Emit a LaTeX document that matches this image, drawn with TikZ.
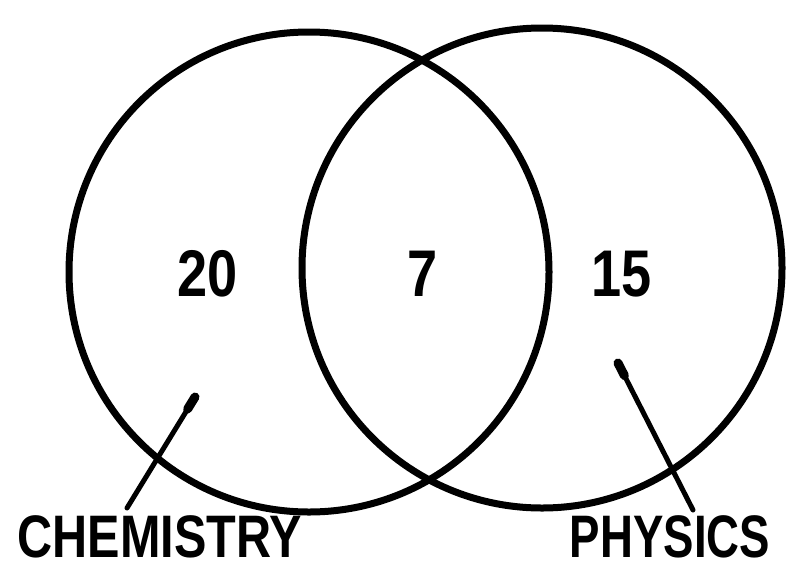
\documentclass[tikz,border=0pt]{standalone}
\usepackage{fontspec}
\setmainfont{Liberation Sans}
\usetikzlibrary{calc}
\begin{document}
\begin{tikzpicture}[x=1pt,y=-1pt,
  setcircle/.style={circle,draw=black,line width=7pt,inner sep=0pt,minimum size=480pt},
  numlabel/.style={font=\fontsize{66}{66}\selectfont\bfseries,inner sep=0pt,xscale=0.82},
  setname/.style={font=\fontsize{60}{60}\selectfont\bfseries,inner sep=0pt,anchor=base},
  leader/.style={line width=5pt,line cap=round},
  blob/.style={line width=9pt,line cap=round}]
\useasboundingbox (0,0) rectangle (787,571);
\node[setcircle] (chem) at (309,272) {};
\node[setcircle] (phys) at (542,268) {};
\node[numlabel] (n20) at (208,274) {20};
\node[numlabel] (n7) at (423,274) {7};
\node[numlabel] (n15) at (622,274) {15};
\node[setname,xscale=0.81] (chemname) at (160,557) {CHEMISTRY};
\node[setname,xscale=0.76] (physname) at (670,557) {PHYSICS};
\coordinate (ctip) at (195,397);
\coordinate (cfoot) at (127,508);
\coordinate (ptip) at (618,363);
\coordinate (pfoot) at (693,510);
\draw[leader] (cfoot) -- (ctip);
\draw[blob] (ctip) -- ($(ctip)!14pt!(cfoot)$);
\draw[leader] (pfoot) -- (ptip);
\draw[blob] (ptip) -- ($(ptip)!14pt!(pfoot)$);
\end{tikzpicture}
\end{document}
